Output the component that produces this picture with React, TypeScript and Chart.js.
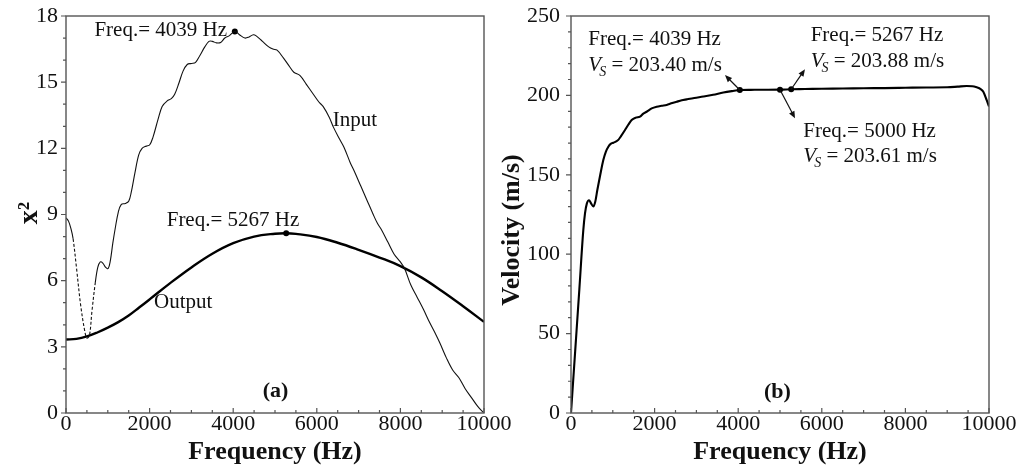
import React, { useEffect, useRef } from 'react';
import { Chart, registerables } from 'chart.js';

Chart.register(...registerables);

const SERIF = "'Liberation Serif', 'Times New Roman', serif";
const INK = '#111111';
const AXIS = '#555555';

// ---------- Panel (a) data ----------
const inputFreq = [0, 60, 120, 170, 250, 350, 450, 500, 560, 620, 700, 760, 820, 880, 950, 1010, 1060, 1120, 1180, 1250, 1320, 1420, 1500, 1560, 1650, 1740, 1820, 1920, 2000, 2080, 2200, 2300, 2420, 2520, 2600, 2700, 2800, 2900, 3000, 3100, 3200, 3320, 3420, 3500, 3600, 3700, 3800, 3900, 4039, 4150, 4280, 4380, 4480, 4550, 4700, 4850, 4950, 5050, 5200, 5350, 5450, 5600, 5750, 5900, 6050, 6150, 6300, 6400, 6550, 6650, 6800, 6900, 7050, 7200, 7350, 7450, 7550, 7700, 7850, 8000, 8100, 8250, 8400, 8550, 8700, 8850, 8950, 9100, 9250, 9400, 9550, 9700, 9850, 10000];
const inputX2 = [8.85, 8.7, 8.35, 7.9, 6.6, 4.9, 3.7, 3.4, 3.5, 4.6, 5.9, 6.6, 6.85, 6.8, 6.6, 6.55, 6.9, 7.7, 8.4, 9.1, 9.45, 9.5, 9.6, 10.0, 10.9, 11.7, 12.0, 12.1, 12.15, 12.5, 13.3, 13.9, 14.15, 14.25, 14.45, 14.95, 15.5, 15.8, 15.85, 15.9, 16.2, 16.6, 16.85, 16.85, 16.78, 16.8, 17.0, 17.1, 17.3, 17.15, 17.0, 17.05, 17.15, 17.1, 16.85, 16.6, 16.5, 16.45, 16.1, 15.7, 15.45, 15.3, 14.9, 14.5, 14.1, 13.9, 13.4, 12.95, 12.4, 12.05, 11.35, 10.95, 10.3, 9.65, 9.0, 8.6, 8.3, 7.75, 7.2, 6.85, 6.55, 5.8, 5.25, 4.7, 4.1, 3.55, 3.15, 2.5, 1.95, 1.6, 1.1, 0.7, 0.3, 0.0];
const inputDashedRange = [170, 700];

const outputFreq = [0, 250, 500, 750, 1000, 1250, 1500, 1750, 2000, 2500, 3000, 3500, 4000, 4500, 5000, 5267, 5500, 6000, 6500, 7000, 7500, 8000, 8500, 9000, 9500, 10000];
const outputX2 = [3.33, 3.36, 3.47, 3.65, 3.87, 4.12, 4.42, 4.78, 5.15, 5.9, 6.6, 7.22, 7.7, 8.0, 8.13, 8.15, 8.12, 7.98, 7.72, 7.4, 7.05, 6.66, 6.15, 5.52, 4.84, 4.13];

const markerFreqA = [4039, 5267];
const markerValA = [17.3, 8.15];

const xTickValues = [0, 2000, 4000, 6000, 8000, 10000];
const yTickValuesA = [0, 3, 6, 9, 12, 15, 18];

const labelTextA = ['Freq.= 4039 Hz', 'Freq.= 5267 Hz', 'Input', 'Output'];
const labelFreqA = [680, 2409, 6380, 2105];
const labelValA = [17.08, 8.47, 13.01, 4.74];

// ---------- Panel (b) data ----------
const velFreq = [0, 100, 200, 294, 335, 380, 431, 480, 534, 580, 630, 700, 773, 833, 893, 950, 1013, 1080, 1132, 1200, 1292, 1370, 1451, 1550, 1651, 1730, 1810, 1930, 2050, 2170, 2289, 2400, 2528, 2650, 2767, 2950, 3165, 3400, 3644, 3850, 4039, 4300, 4600, 5000, 5267, 5600, 6000, 6500, 7000, 7500, 8000, 8500, 9000, 9250, 9466, 9600, 9705, 9800, 9864, 9945, 10000];
const velocity = [0, 39, 78, 115, 125.7, 132, 134, 132, 130, 133, 140.4, 150, 159.3, 164.5, 167.7, 169.5, 170.2, 171, 172, 174.5, 178.2, 181.5, 184.5, 186, 186.6, 188.5, 189.7, 191.8, 192.9, 193.5, 194, 195, 196, 196.9, 197.5, 198.4, 199.3, 200.4, 201.8, 202.7, 203.4, 203.5, 203.55, 203.61, 203.88, 204, 204.2, 204.3, 204.5, 204.6, 204.8, 205, 205.1, 205.5, 205.9, 205.8, 205.1, 204, 202.3, 197, 193];

const markerFreqB = [4039, 5000, 5267];
const markerVelB = [203.40, 203.61, 203.88];

const yTickValuesB = [0, 50, 100, 150, 200, 250];

const noteFreqTextB = ['Freq.= 4039 Hz', 'Freq.= 5267 Hz', 'Freq.= 5000 Hz'];
const noteVsTextB = [' = 203.40 m/s', ' = 203.88 m/s', ' = 203.61 m/s'];
const noteFreqB = [414, 5734, 5558];
const noteLine1VelB = [231.7, 234.5, 174];
const noteLine2VelB = [215.4, 218.1, 158.3];

const arrowFromFreqB = [4039, 5267, 5000];
const arrowFromVelB = [203.4, 203.88, 203.61];
const arrowToFreqB = [3684, 5598, 5359];
const arrowToVelB = [212.8, 216.4, 185.6];

function drawFrameAndTicks(chart: any, yMinor: number, yMajor: number, xMinor: number, xMajor: number) {
  const { ctx, chartArea: a, scales } = chart;
  const x = scales.x;
  const y = scales.y;
  ctx.save();
  ctx.strokeStyle = AXIS;
  ctx.lineWidth = 1.4;
  ctx.strokeRect(a.left, a.top, a.right - a.left, a.bottom - a.top);
  ctx.lineWidth = 1.2;
  ctx.beginPath();
  const nY = Math.round((y.max - y.min) / yMinor);
  for (let i = 0; i <= nY; i++) {
    const v = y.min + i * yMinor;
    const py = y.getPixelForValue(v);
    const major = Math.abs(v / yMajor - Math.round(v / yMajor)) < 1e-6;
    const len = major ? 5 : 3;
    ctx.moveTo(a.left - len, py);
    ctx.lineTo(a.left, py);
  }
  const nX = Math.round((x.max - x.min) / xMinor);
  for (let i = 0; i <= nX; i++) {
    const v = x.min + i * xMinor;
    const px = x.getPixelForValue(v);
    const major = Math.abs(v / xMajor - Math.round(v / xMajor)) < 1e-6;
    const len = major ? 5 : 3;
    ctx.moveTo(px, a.bottom);
    ctx.lineTo(px, a.bottom - len);
  }
  ctx.stroke();
  ctx.restore();
}

function drawArrow(ctx: CanvasRenderingContext2D, x0: number, y0: number, x1: number, y1: number) {
  const ang = Math.atan2(y1 - y0, x1 - x0);
  const head = 7;
  const half = 3;
  ctx.beginPath();
  ctx.moveTo(x0, y0);
  ctx.lineTo(x1 - Math.cos(ang) * head * 0.8, y1 - Math.sin(ang) * head * 0.8);
  ctx.stroke();
  ctx.beginPath();
  ctx.moveTo(x1, y1);
  ctx.lineTo(x1 - Math.cos(ang) * head - Math.sin(ang) * half, y1 - Math.sin(ang) * head + Math.cos(ang) * half);
  ctx.lineTo(x1 - Math.cos(ang) * head + Math.sin(ang) * half, y1 - Math.sin(ang) * head - Math.cos(ang) * half);
  ctx.closePath();
  ctx.fill();
}

const pts = (xs: number[], ys: number[]) => xs.map((f, i) => ({ x: f, y: ys[i] }));

function baseScales(yMin: number, yMax: number, yTicks: number[], yWidth: number, yPad: number) {
  return {
    x: {
      type: 'linear',
      min: 0,
      max: 10000,
      afterBuildTicks: (s: any) => { s.ticks = xTickValues.map((v) => ({ value: v })); },
      afterFit: (s: any) => { s.height = 62; s.paddingLeft = 0; s.paddingRight = 0; },
      grid: { display: false, drawTicks: false },
      border: { display: false },
      ticks: { font: { family: SERIF, size: 22 }, color: INK, padding: -2, maxRotation: 0, autoSkip: false, callback: (v: any) => String(v) },
      title: { display: true, text: 'Frequency (Hz)', color: INK, font: { family: SERIF, size: 26, weight: 'bold' }, padding: { top: 0, bottom: 7 } },
    },
    y: {
      type: 'linear',
      min: yMin,
      max: yMax,
      afterBuildTicks: (s: any) => { s.ticks = yTicks.map((v) => ({ value: v })); },
      afterFit: (s: any) => { s.width = yWidth; s.paddingTop = 0; s.paddingBottom = 0; },
      grid: { display: false, drawTicks: false },
      border: { display: false },
      ticks: { font: { family: SERIF, size: 22 }, color: INK, padding: yPad, autoSkip: false, callback: (v: any) => String(v) },
      title: { display: false },
    },
  };
}

export default function App() {
  const refA = useRef<HTMLCanvasElement | null>(null);
  const refB = useRef<HTMLCanvasElement | null>(null);

  useEffect(() => {
    if (!refA.current || !refB.current) return;

    const pluginA = {
      id: 'panelA',
      afterDraw(chart: any) {
        drawFrameAndTicks(chart, 1, 3, 500, 2000);
        const { ctx, scales: { x, y } } = chart;
        ctx.save();
        ctx.fillStyle = INK;
        ctx.textBaseline = 'alphabetic';
        ctx.textAlign = 'left';
        ctx.font = `21px ${SERIF}`;
        labelTextA.forEach((t, i) => ctx.fillText(t, x.getPixelForValue(labelFreqA[i]), y.getPixelForValue(labelValA[i])));
        ctx.font = `bold 22px ${SERIF}`;
        ctx.fillText('(a)', x.getPixelForValue(4705), y.getPixelForValue(0.73));
        ctx.translate(37, 213);
        ctx.rotate(-Math.PI / 2);
        ctx.textAlign = 'center';
        ctx.font = `bold 28px ${SERIF}`;
        ctx.fillText('x²', 0, 0);
        ctx.restore();
      },
    };

    const pluginB = {
      id: 'panelB',
      afterDraw(chart: any) {
        drawFrameAndTicks(chart, 10, 50, 500, 2000);
        const { ctx, scales: { x, y } } = chart;
        ctx.save();
        ctx.fillStyle = INK;
        ctx.strokeStyle = INK;
        ctx.lineWidth = 1.2;
        ctx.textBaseline = 'alphabetic';
        ctx.textAlign = 'left';
        noteFreqTextB.forEach((t, i) => {
          const px = x.getPixelForValue(noteFreqB[i]);
          ctx.font = `21px ${SERIF}`;
          ctx.fillText(t, px, y.getPixelForValue(noteLine1VelB[i]));
          const by = y.getPixelForValue(noteLine2VelB[i]);
          ctx.font = `italic 21px ${SERIF}`;
          ctx.fillText('V', px, by);
          const vw = ctx.measureText('V').width;
          ctx.font = `italic 14px ${SERIF}`;
          ctx.fillText('S', px + vw - 2, by + 5);
          const sw = ctx.measureText('S').width;
          ctx.font = `21px ${SERIF}`;
          ctx.fillText(noteVsTextB[i], px + vw - 2 + sw, by);
        });
        arrowFromFreqB.forEach((f, i) => {
          drawArrow(ctx, x.getPixelForValue(f), y.getPixelForValue(arrowFromVelB[i]), x.getPixelForValue(arrowToFreqB[i]), y.getPixelForValue(arrowToVelB[i]));
        });
        ctx.font = `bold 22px ${SERIF}`;
        ctx.fillText('(b)', x.getPixelForValue(4617), y.getPixelForValue(9.25));
        ctx.translate(29, 230);
        ctx.rotate(-Math.PI / 2);
        ctx.textAlign = 'center';
        ctx.font = `bold 26px ${SERIF}`;
        ctx.fillText('Velocity (m/s)', 0, 0);
        ctx.restore();
      },
    };

    const commonPlugins = { legend: { display: false }, tooltip: { enabled: false }, title: { display: false } };

    const chartA = new Chart(refA.current, {
      type: 'line',
      data: {
        datasets: [
          {
            data: pts(inputFreq, inputX2),
            borderColor: INK,
            borderWidth: 1.1,
            pointRadius: 0,
            tension: 0.35,
            segment: {
              borderDash: (c: any) => (c.p0.parsed.x >= inputDashedRange[0] && c.p1.parsed.x <= inputDashedRange[1] ? [3, 2] : undefined),
            },
          },
          {
            data: pts(outputFreq, outputX2),
            borderColor: '#000000',
            borderWidth: 2.4,
            pointRadius: 0,
            tension: 0.4,
          },
          {
            data: pts(markerFreqA, markerValA),
            showLine: false,
            pointRadius: 3,
            pointBackgroundColor: '#000000',
            pointBorderColor: '#000000',
            pointBorderWidth: 0,
          },
        ],
      } as any,
      options: {
        responsive: false,
        animation: false,
        layout: { padding: { top: 16, right: 36, left: 0, bottom: 0 } },
        plugins: commonPlugins,
        scales: baseScales(0, 18, yTickValuesA, 66, 8),
      } as any,
      plugins: [pluginA],
    });

    const chartB = new Chart(refB.current, {
      type: 'line',
      data: {
        datasets: [
          {
            data: pts(velFreq, velocity),
            borderColor: '#000000',
            borderWidth: 2.1,
            pointRadius: 0,
            cubicInterpolationMode: 'monotone',
          },
          {
            data: pts(markerFreqB, markerVelB),
            showLine: false,
            pointRadius: 3,
            pointBackgroundColor: '#000000',
            pointBorderColor: '#000000',
            pointBorderWidth: 0,
          },
        ],
      } as any,
      options: {
        responsive: false,
        animation: false,
        layout: { padding: { top: 16, right: 31, left: 0, bottom: 0 } },
        plugins: commonPlugins,
        scales: baseScales(0, 250, yTickValuesB, 81, 11),
      } as any,
      plugins: [pluginB],
    });

    return () => {
      chartA.destroy();
      chartB.destroy();
    };
  }, []);

  return (
    <div style={{ position: 'fixed', left: 0, top: 0, width: 1020, height: 475, background: '#ffffff', overflow: 'hidden' }}>
      <canvas ref={refA} width={520} height={475} style={{ position: 'absolute', left: 0, top: 0 }} />
      <canvas ref={refB} width={530} height={475} style={{ position: 'absolute', left: 490, top: 0 }} />
    </div>
  );
}
